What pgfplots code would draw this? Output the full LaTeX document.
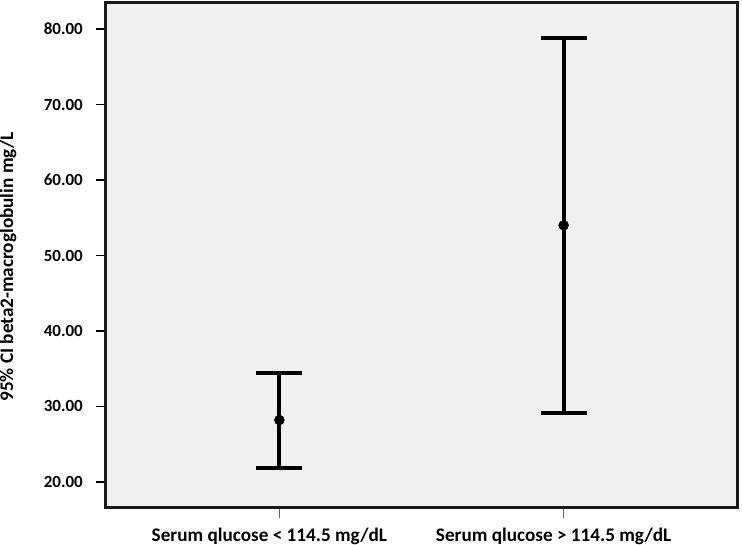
\documentclass[border=0pt]{standalone}
\usepackage{fontspec}
\setmainfont{Carlito}
\usepackage{pgfplots}
\pgfplotsset{compat=1.18}
\definecolor{panel}{HTML}{F0F0F0}
\begin{document}
\begin{tikzpicture}
\begin{axis}[
  name=ax,
  scale only axis,
  width=631pt,height=505pt,
  xmin=0.39,xmax=2.61,ymin=16.55,ymax=83.45,
  xtick={1,2},
  xticklabels={Serum qlucose < 114.5 mg/dL, Serum qlucose > 114.5 mg/dL},
  ytick={20,30,40,50,60,70,80},
  yticklabel style={anchor=east,inner sep=0pt,xshift=-13pt,font=\bfseries\fontsize{17}{20}\selectfont,
    /pgf/number format/.cd,fixed,fixed zerofill,precision=2,assume math mode=true},
  tick pos=left,
  tick align=outside,
  major tick length=10pt,
  x tick style={line width=1pt,black!60},
  y tick style={line width=1.3pt,black},
  axis line style={line width=3pt,black!90},
  axis background/.style={fill=panel},
  xticklabel style={yshift=-6pt,xshift=-10pt,font=\bfseries\fontsize{19.2}{22}\selectfont},
  clip=false,
]
  \addplot[only marks,mark=*,mark size=5pt,black,
    error bars/.cd,y dir=both,y explicit,
    error bar style={line width=4pt,black},
    error mark options={rotate=90,line width=4pt,mark size=23pt,black}]
    coordinates {
      (1,28.2) += (0,6.2) -= (0,6.3)
      (2,54.0) += (0,24.8) -= (0,24.9)
    };
\end{axis}
\node[rotate=90,anchor=center,inner sep=0pt,font=\bfseries\fontsize{19.2}{22}\selectfont]
  at ([shift={(-98pt,241pt)}]ax.south west) {95\% CI beta2-macroglobulin mg/L};
\pgfresetboundingbox
\path[use as bounding box] ([shift={(-106pt,-37pt)}]ax.south west) rectangle ([shift={(5pt,3pt)}]ax.north east);
\end{tikzpicture}
\end{document}
